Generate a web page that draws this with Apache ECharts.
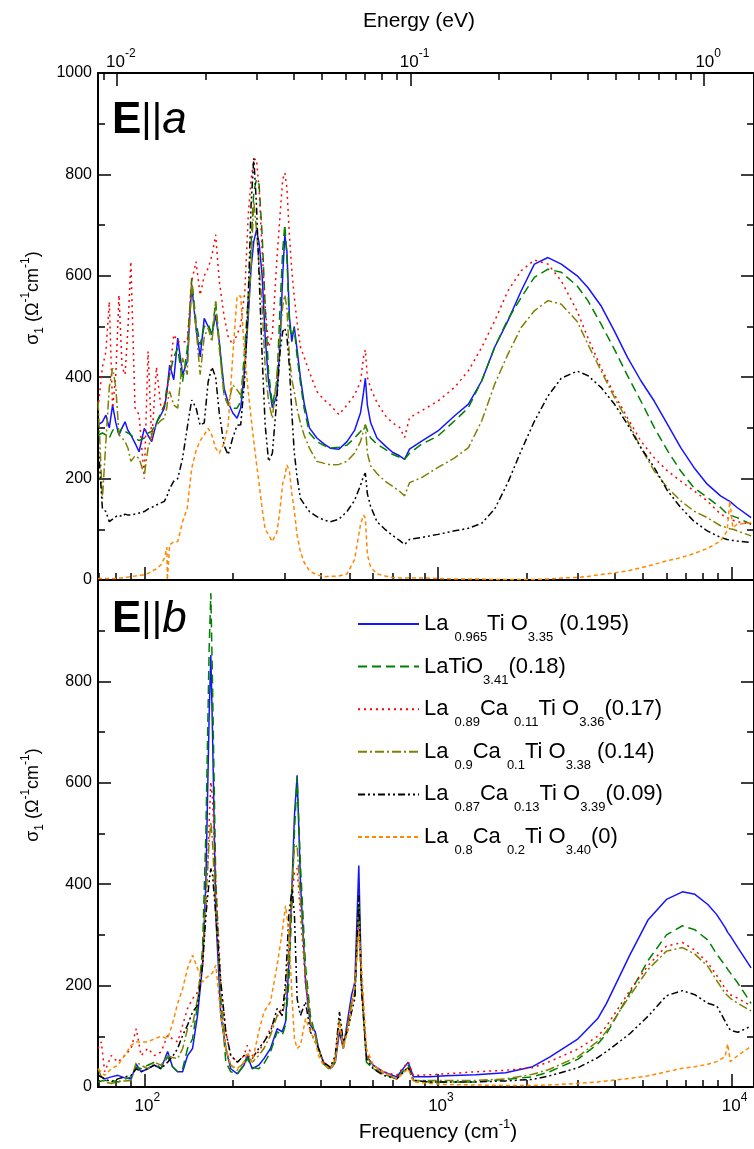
<!DOCTYPE html>
<html><head><meta charset="utf-8">
<script src="https://cdn.jsdelivr.net/npm/echarts@6/dist/echarts.min.js"></script>
<style>html,body{margin:0;padding:0;background:#fff}#c{width:754px;height:1149px}</style>
</head><body><div id="c"></div>
<script>
// ---------- data (frequency in cm^-1, sigma_1 in Ohm^-1 cm^-1) ----------
const FREQ_A = [69.6,72,74,76,78,80,82,84,86,88,90,93,96,100,103,106,110,114,117,119.4,119.8,122,126,130,135,140,145,150,155,160,165,170,175,180,187,193,200,207,213,220,226,231,236,241,246,252,258,265,273,283,290,296,301,306,312,318,324,331,340,350,365,387,410,430,460,490,520,545,558,566,575,590,620,660,700,740,770,800,880,1000,1140,1270,1410,1560,1730,1920,2130,2370,2630,2980,3240,3590,3990,4420,4910,5450,6050,6710,7440,8260,9170,9660,9860,10100,10440,11650];
const BLUE_A = [306,312,325,300,345,310,286,300,312,295,286,270,253,299,285,273,310,326,339,370,380,424,395,477,405,431,582,497,440,516,500,484,523,470,378,350,330,319,339,420,520,615,668,690,665,600,480,390,340,365,470,600,681,648,520,470,500,457,400,350,300,280,268,260,258,273,295,330,370,398,345,310,280,265,252,245,238,258,274,294,324,347,393,459,511,570,623,636,623,600,577,541,491,439,393,353,307,261,222,189,166,158,155,150,143,123];
const GREEN_A = [286,290,286,280,295,299,290,300,293,290,286,280,275,280,290,293,310,330,345,380,385,405,440,457,391,455,595,510,464,500,505,484,549,470,365,345,339,339,352,460,560,660,766,790,780,680,540,410,345,391,540,650,701,635,500,480,497,444,390,339,290,273,265,260,262,266,280,293,300,306,295,280,268,258,248,242,238,250,268,284,314,340,393,459,514,557,597,613,607,580,551,505,455,403,353,301,255,215,182,163,143,130,128,126,123,110];
const RED_A = [339,420,450,549,339,405,562,420,405,497,628,339,326,200,451,273,420,339,339,370,380,405,484,470,470,470,589,628,562,600,615,640,681,590,520,480,464,484,503,570,720,790,829,830,770,650,540,460,484,635,720,790,803,773,680,610,560,510,460,440,410,372,355,345,326,345,365,391,440,454,400,378,350,325,310,301,281,320,334,353,380,413,459,511,570,610,631,623,590,530,478,419,366,320,274,241,215,195,176,156,130,123,120,118,115,110];
const OLIVE_A = [352,160,273,380,418,380,286,280,273,260,234,245,240,207,260,286,305,315,319,340,350,372,345,339,438,405,589,497,405,480,497,470,549,457,365,345,385,375,365,430,530,620,747,690,620,540,420,352,319,405,480,540,562,536,440,395,372,339,310,286,260,234,230,227,228,234,250,273,295,306,250,225,210,195,185,175,166,192,202,222,241,261,314,386,445,498,531,551,544,510,465,413,360,314,261,215,182,156,136,123,107,103,101,100,97,87];
const BLACK_A = [273,141,135,115,120,125,128,125,130,128,128,130,132,135,140,143,148,152,155,165,168,180,195,200,240,300,355,340,305,310,391,420,400,330,265,247,280,305,306,400,560,740,832,740,600,440,306,234,250,360,450,490,497,480,420,330,253,205,161,150,135,125,118,115,120,135,157,187,205,211,170,145,115,100,88,78,70,80,84,90,97,102,112,140,192,255,313,363,398,412,403,380,347,307,261,222,176,143,116,97,84,80,79,78,77,74];
const ORANGE_A = [3,3,3,3,3,3,4,4,5,6,7,8,9,10,13,17,22,30,43,65,0,70,75,76,115,141,220,255,275,286,299,285,260,250,270,305,440,560,560,440,372,320,273,230,190,140,100,89,76,95,140,190,205,227,215,170,140,90,56,35,18,10,7,7,8,12,40,110,128,122,50,25,12,8,5,4,4,4,4,3,2,2,2,1,1,1,1,2,4,5,7,11,14,18,24,31,38,44,52,62,77,97,156,103,110,113];

const FREQ_B = [69.6,71.4,73.3,77.2,81.3,85.7,90.2,93.9,97.5,102.8,108.2,114,120.1,124.8,129.9,135.1,140.4,146,151.8,157.9,162.1,166.3,168.5,170.7,175.2,182.2,189.5,197,207.5,218.5,224.2,233.1,245.3,255.5,269,283.5,294.9,302.7,310.6,318.7,324.6,331.5,340.3,354,367.8,382.1,392.2,407.3,429.9,447,462,476.1,495.1,508,521.2,537.6,548.9,570.6,601.9,651.9,723.4,792.3,824.7,936.9,1065,1343,1700,2100,2400,3000,3500,3750,4500,5200,6000,6800,7500,8300,8900,9500,9700,9900,10500,11650];
const BLUE_B = [23,20,16,20,23,18,16,45,30,36,43,36,70,40,30,30,62,76,141,240,405,734,852,701,339,141,76,36,26,43,62,36,43,56,76,115,109,128,240,405,536,615,405,207,122,109,76,49,36,49,109,76,141,181,207,437,207,62,43,30,20,49,20,20,22,24,28,40,59,95,135,165,260,330,370,385,380,360,340,315,305,298,275,235];
const GREEN_B = [10,12,13,13,10,15,20,39,36,43,49,36,60,40,30,36,76,95,161,273,503,865,974,799,405,174,49,30,26,43,56,39,36,46,69,109,102,122,207,372,503,612,438,240,141,102,76,46,33,49,128,76,128,168,181,365,207,49,36,26,16,43,13,10,10,10,15,20,30,55,85,105,185,250,300,318,310,290,262,240,232,225,205,165];
const RED_B = [76,89,30,62,49,62,76,115,62,76,62,69,102,95,89,122,155,174,187,240,339,523,602,569,405,207,109,62,49,62,82,62,69,89,115,141,155,187,273,372,424,431,339,207,122,102,76,49,36,56,122,82,122,161,187,339,207,69,43,30,23,49,23,24,26,30,33,38,50,75,100,120,190,240,278,285,270,245,220,195,188,182,175,160];
const OLIVE_B = [36,20,10,7,10,12,13,49,43,36,49,43,62,58,56,76,115,122,174,253,372,484,523,484,339,187,76,43,33,49,62,49,62,76,102,141,141,174,273,405,470,477,365,220,128,102,76,46,36,56,135,82,128,168,187,339,194,62,39,26,16,39,13,13,13,13,16,25,35,60,90,110,180,232,268,275,262,238,210,185,180,175,165,150];
const BLACK_B = [23,20,16,10,16,20,23,36,30,36,43,36,49,60,76,102,122,148,161,240,339,405,431,418,339,207,109,62,49,62,62,56,76,89,109,155,141,207,339,391,339,174,141,168,109,89,76,49,39,62,148,89,115,148,174,378,194,56,36,23,16,39,13,10,10,10,12,15,22,38,58,70,105,140,180,190,182,165,160,130,120,112,108,120];
const ORANGE_B = [36,30,23,36,43,62,82,89,89,89,95,100,95,125,165,194,234,260,234,207,215,220,220,225,240,141,76,43,36,49,69,49,109,148,168,240,306,358,306,174,95,76,82,135,109,89,62,43,36,49,128,76,115,155,207,306,240,76,43,30,16,36,10,7,5,4,3,3,4,7,10,12,17,22,30,37,40,45,50,60,85,50,62,80];

const SERIES_NAMES = ['La0.965TiO3.35(0.195)','LaTiO3.41(0.18)','La0.89Ca0.11TiO3.36(0.17)','La0.9Ca0.1TiO3.38(0.14)','La0.87Ca0.13TiO3.39(0.09)','La0.8Ca0.2TiO3.40(0)'];
const LEGEND_LABELS = [
  '{m|La }{s|0.965}{m|Ti O}{s|3.35}{m| (0.195)}',
  '{m|LaTiO}{s|3.41}{m|(0.18)}',
  '{m|La }{s|0.89}{m|Ca }{s|0.11}{m|Ti O}{s|3.36}{m|(0.17)}',
  '{m|La }{s|0.9}{m|Ca }{s|0.1}{m|Ti O}{s|3.38}{m| (0.14)}',
  '{m|La }{s|0.87}{m|Ca }{s|0.13}{m|Ti O}{s|3.39}{m|(0.09)}',
  '{m|La }{s|0.8}{m|Ca }{s|0.2}{m|Ti O}{s|3.40}{m|(0)}'
];
const FREQ_MAJOR = [100, 1000, 10000];
const FREQ_MINOR = [70,80,90,200,300,400,500,600,700,800,900,2000,3000,4000,5000,6000,7000,8000,9000];
const EV_MAJOR = [0.01, 0.1, 1];
const EV_MINOR = [0.009,0.02,0.03,0.04,0.05,0.06,0.07,0.08,0.09,0.2,0.3,0.4,0.5,0.6,0.7,0.8,0.9];

// ---------- styling ----------
const FONT = 'Liberation Sans, Arial, Helvetica, sans-serif';
const CM_PER_EV = 8065.54;
const XMIN = 1.84237, XMAX = 4.07627;
const STYLES = [
  {color:'#1414ff', type:'solid'},
  {color:'#008000', type:[9,5]},
  {color:'#ff0000', type:[2,4]},
  {color:'#808000', type:[9,3,2,3]},
  {color:'#000000', type:[7,3,2,3,2,3]},
  {color:'#ff8800', type:[4,3]}
];
const lg = Math.log10;

const chart = echarts.init(document.getElementById('c'), null, {renderer:'canvas'});

function tickAxis(gi, pos, vals, len, extra) {
  return Object.assign({
    type:'value', gridIndex:gi, position:pos, min:XMIN, max:XMAX,
    axisLine:{show:false, onZero:false},
    axisTick:{show:true, inside:true, length:len, customValues:vals, lineStyle:{color:'#000', width:1.5}},
    axisLabel:{show:false}, splitLine:{show:false}
  }, extra || {});
}
const supRich = (padL) => ({
  b:{fontSize:17, lineHeight:20, fontFamily:FONT, color:'#000', padding:[0,0,0,padL]},
  p:{fontSize:12, lineHeight:12, fontFamily:FONT, color:'#000', padding:[0,0,17,0]}
});
const axLine = {show:true, onZero:false, lineStyle:{color:'#000', width:2}};

const xAxes = [
  tickAxis(0,'bottom', FREQ_MAJOR.map(lg), 13, {axisLine:axLine}),
  tickAxis(0,'bottom', FREQ_MINOR.map(lg), 7),
  tickAxis(0,'top', EV_MAJOR.map(e=>lg(e*CM_PER_EV)), 13, {
    axisLine:axLine,
    axisLabel:{show:true, margin:1, customValues:EV_MAJOR.map(e=>lg(e*CM_PER_EV)),
      formatter:v=>'{b|10}{p|'+Math.round(v-lg(CM_PER_EV))+'}', rich:supRich(8)}
  }),
  tickAxis(0,'top', EV_MINOR.map(e=>lg(e*CM_PER_EV)), 7),
  tickAxis(1,'bottom', FREQ_MAJOR.map(lg), 13, {
    axisLine:axLine,
    axisLabel:{show:true, margin:9, customValues:FREQ_MAJOR.map(lg),
      formatter:v=>'{b|10}{p|'+Math.round(v)+'}', rich:supRich(6)}
  }),
  tickAxis(1,'bottom', FREQ_MINOR.map(lg), 7)
];
function yAx(gi, pos, labels, hideMax) {
  return {
    type:'value', gridIndex:gi, position:pos, min:0, max:1000, interval:200,
    axisLine:axLine,
    axisTick:{show:true, inside:true, length:13, lineStyle:{color:'#000', width:1.5}},
    minorTick:{show:true, splitNumber:2, length:7, lineStyle:{color:'#000', width:1.5}},
    axisLabel:{show:labels, margin:6, fontSize:16, fontFamily:FONT, color:'#000',
      formatter:v=>(hideMax && v===1000)?'':String(v)},
    splitLine:{show:false}, minorSplitLine:{show:false}
  };
}
const yAxes = [yAx(0,'left',true,false), yAx(0,'right',false), yAx(1,'left',true,true), yAx(1,'right',false)];

const PANEL_A = [BLUE_A, GREEN_A, RED_A, OLIVE_A, BLACK_A, ORANGE_A];
const PANEL_B = [BLUE_B, GREEN_B, RED_B, OLIVE_B, BLACK_B, ORANGE_B];
const series = [];
function addPanel(F, vals, xi, yi) {
  vals.forEach((V, k) => {
    series.push({
      type:'line', name:SERIES_NAMES[k], xAxisIndex:xi, yAxisIndex:yi,
      data:F.map((f,i)=>[lg(f), V[i]]),
      symbol:'none', showSymbol:false, silent:true, clip:true,
      lineStyle:{color:STYLES[k].color, width:1.5, type:STYLES[k].type},
      itemStyle:{color:STYLES[k].color}
    });
  });
}
addPanel(FREQ_A, PANEL_A, 0, 0);
addPanel(FREQ_B, PANEL_B, 4, 2);

const subRich = {
  m:{fontSize:18, lineHeight:26, fontFamily:FONT, fill:'#000'},
  s:{fontSize:12, lineHeight:12, fontFamily:FONT, fill:'#000', padding:[14,0,0,0]},
  p:{fontSize:12, lineHeight:12, fontFamily:FONT, fill:'#000', padding:[0,0,14,0]}
};
const yName = '{m|σ}{s|1}{m| (Ω}{p|-1}{m|cm}{p|-1}{m|)}';
const panelLabel = (ch, y) => ({
  type:'text', x:112, y:y, silent:true,
  style:{text:'{e|E}{q|||}{i|'+ch+'}', align:'left', verticalAlign:'middle',
    rich:{
      e:{fontSize:44, fontWeight:'bold', fontFamily:FONT, fill:'#000'},
      q:{fontSize:40, fontFamily:FONT, fill:'#000'},
      i:{fontSize:44, fontStyle:'italic', fontFamily:FONT, fill:'#000'}
    }}
});

chart.setOption({
  animation:false,
  backgroundColor:'#fff',
  grid:[
    {left:98, top:73, right:-3, height:507},
    {left:98, top:580, right:-3, height:507}
  ],
  xAxis:xAxes,
  yAxis:yAxes,
  legend:{
    orient:'vertical', left:357, top:604, padding:0, itemGap:2.6,
    itemWidth:61, itemHeight:14, selectedMode:false,
    itemStyle:{opacity:0, borderWidth:0},
    lineStyle:{width:2},
    data:SERIES_NAMES,
    formatter:name=>LEGEND_LABELS[SERIES_NAMES.indexOf(name)],
    textStyle:{fontFamily:FONT, fontSize:22, color:'#000',
      rich:{
        m:{fontSize:22, lineHeight:26, fontFamily:FONT, color:'#000'},
        s:{fontSize:13, lineHeight:13, fontFamily:FONT, color:'#000', padding:[27,0,0,0]}
      }}
  },
  graphic:[
    panelLabel('a', 121),
    panelLabel('b', 620),
    {type:'text', x:33, y:298, rotation:Math.PI/2, silent:true,
      style:{text:yName, rich:subRich, align:'center', verticalAlign:'middle'}},
    {type:'text', x:33, y:795, rotation:Math.PI/2, silent:true,
      style:{text:yName, rich:subRich, align:'center', verticalAlign:'middle'}},
    {type:'text', x:419, y:21, silent:true,
      style:{text:'Energy (eV)', fontSize:21, fontFamily:FONT, fill:'#000', align:'center', verticalAlign:'middle'}},
    {type:'text', x:438, y:1132, silent:true,
      style:{text:'{m|Frequency (cm}{p|-1}{m|)}', align:'center', verticalAlign:'middle',
        rich:{
          m:{fontSize:21, lineHeight:28, fontFamily:FONT, fill:'#000'},
          p:{fontSize:13, lineHeight:13, fontFamily:FONT, fill:'#000', padding:[0,0,15,0]}
        }}}
  ],
  series:series
});
</script>
</body></html>
